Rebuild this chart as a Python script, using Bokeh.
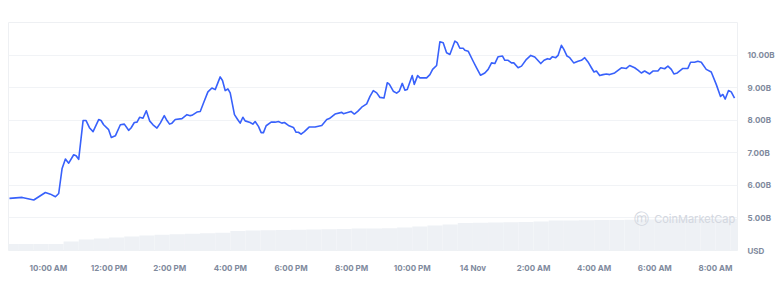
from bokeh.plotting import figure
from bokeh.models import Range1d, FixedTicker, Label
from bokeh.embed import file_html
from bokeh.resources import INLINE

# Time in hours since 00:00 on 13 Nov (24 = midnight, 14 Nov)
hours = [8.715, 9.134, 9.516, 9.90, 10.066, 10.231, 10.339, 10.451, 10.56, 10.669,
         10.833, 10.912, 10.998, 11.143, 11.242, 11.36, 11.472, 11.657, 11.736, 11.821,
         11.986, 12.075, 12.207, 12.372, 12.503, 12.645, 12.724, 12.833, 12.922, 13.007,
         13.119, 13.228, 13.337, 13.449, 13.58, 13.689, 13.821, 13.91, 13.995, 14.074,
         14.183, 14.404, 14.569, 14.677, 14.733, 14.898, 15.007, 15.115, 15.26, 15.392,
         15.501, 15.665, 15.741, 15.83, 15.919, 15.995, 16.136, 16.235, 16.324, 16.413,
         16.489, 16.653, 16.742, 16.818, 16.927, 17.016, 17.092, 17.181, 17.345, 17.477,
         17.586, 17.698, 17.783, 17.915, 18.08, 18.169, 18.245, 18.333, 18.442, 18.597,
         18.794, 19.015, 19.18, 19.266, 19.453, 19.674, 19.727, 19.98, 20.089, 20.201,
         20.333, 20.497, 20.606, 20.715, 20.827, 20.935, 21.067, 21.176, 21.242, 21.374,
         21.485, 21.571, 21.67, 21.759, 21.835, 21.999, 22.065, 22.177, 22.253, 22.474,
         22.582, 22.671, 22.803, 22.912, 23.02, 23.132, 23.241, 23.406, 23.482, 23.57,
         23.679, 23.735, 23.844, 24.009, 24.121, 24.253, 24.394, 24.503, 24.615, 24.723,
         24.832, 24.977, 25.053, 25.161, 25.273, 25.349, 25.491, 25.603, 25.767, 25.909,
         26.041, 26.238, 26.347, 26.459, 26.535, 26.624, 26.733, 26.808, 26.92, 26.996,
         27.105, 27.194, 27.325, 27.467, 27.579, 27.688, 27.797, 27.909, 27.994, 28.073,
         28.182, 28.291, 28.403, 28.511, 28.676, 28.897, 29.061, 29.17, 29.335, 29.443,
         29.555, 29.664, 29.829, 29.937, 30.102, 30.191, 30.323, 30.432, 30.544, 30.629,
         30.741, 30.926, 31.09, 31.179, 31.311, 31.42, 31.532, 31.696, 31.861, 32.026,
         32.167, 32.243, 32.322, 32.431, 32.52, 32.629]

# 24h trading volume, billions USD
volume_b = [5.60, 5.63, 5.55, 5.78, 5.73, 5.65, 5.75, 6.52, 6.81, 6.68,
            6.94, 6.91, 6.80, 7.99, 7.99, 7.76, 7.65, 8.02, 7.99, 7.86,
            7.71, 7.47, 7.52, 7.86, 7.88, 7.69, 7.76, 7.93, 7.94, 8.09,
            8.06, 8.29, 7.98, 7.86, 7.76, 7.91, 8.14, 7.99, 7.88, 7.91,
            8.02, 8.05, 8.17, 8.14, 8.15, 8.25, 8.27, 8.53, 8.87, 8.99,
            8.94, 9.33, 9.22, 8.91, 8.96, 8.84, 8.17, 8.03, 7.91, 8.09,
            7.98, 7.93, 7.88, 7.96, 7.81, 7.62, 7.62, 7.83, 7.94, 7.94,
            7.96, 7.91, 7.93, 7.84, 7.78, 7.63, 7.63, 7.57, 7.65, 7.79,
            7.79, 7.84, 8.02, 8.05, 8.19, 8.24, 8.20, 8.27, 8.19, 8.27,
            8.40, 8.50, 8.73, 8.91, 8.84, 8.70, 8.68, 9.15, 9.11, 8.89,
            8.83, 8.89, 9.13, 8.92, 8.94, 9.37, 9.10, 9.37, 9.30, 9.30,
            9.40, 9.56, 9.68, 10.41, 10.38, 10.07, 10.02, 10.43, 10.38, 10.21,
            10.21, 10.15, 10.12, 9.81, 9.61, 9.38, 9.45, 9.56, 9.76, 9.74,
            9.95, 9.97, 9.84, 9.84, 9.76, 9.76, 9.61, 9.66, 9.87, 9.99,
            9.94, 9.74, 9.84, 9.89, 9.87, 9.95, 9.92, 9.99, 10.30, 10.18,
            9.97, 9.92, 9.76, 9.81, 9.84, 9.92, 9.79, 9.61, 9.48, 9.51,
            9.37, 9.40, 9.42, 9.40, 9.45, 9.61, 9.59, 9.68, 9.61, 9.54,
            9.45, 9.51, 9.42, 9.51, 9.51, 9.61, 9.58, 9.66, 9.56, 9.42,
            9.45, 9.59, 9.59, 9.78, 9.78, 9.81, 9.78, 9.56, 9.48, 9.10,
            8.73, 8.79, 8.65, 8.91, 8.87, 8.68]

# Background grey bars (relative scale, 0-100)
bar_hours = [8.75 + 0.5 * i for i in range(49)]
bar_values = [2.9, 2.9, 2.9, 2.9, 3.9, 4.8, 5.3, 5.7, 6.1, 6.6,
              6.9, 7.1, 7.3, 7.6, 7.8, 8.6, 8.8, 8.9, 9.0, 9.1,
              9.2, 9.3, 9.4, 9.6, 9.6, 9.8, 10.1, 10.5, 11.0, 11.4,
              12.1, 12.2, 12.3, 12.4, 12.5, 12.7, 13.2, 13.2, 13.3, 13.4,
              13.4, 13.5, 13.6, 13.6, 13.7, 13.8, 13.8, 13.9, 13.9]

x_ticks = [10, 12, 14, 16, 18, 20, 22, 24, 26, 28, 30, 32]
x_tick_labels = ["10:00 AM", "12:00 PM", "2:00 PM", "4:00 PM", "6:00 PM", "8:00 PM",
                 "10:00 PM", "14 Nov", "2:00 AM", "4:00 AM", "6:00 AM", "8:00 AM"]
y_ticks = [4, 5, 6, 7, 8, 9, 10]
y_tick_labels = ["USD", "5.00B", "6.00B", "7.00B", "8.00B", "9.00B", "10.00B"]
grid_ticks = [5, 6, 7, 8, 9, 10]

FONT = "Inter"
LABEL_COLOR = "#808a9d"

p = figure(width=777, height=284, output_backend="svg", toolbar_location=None,
           x_range=Range1d(8.683, 32.727), y_range=Range1d(4.0, 11.0),
           y_axis_location="right",
           min_border_left=8, min_border_right=39, min_border_top=22, min_border_bottom=34)
p.extra_y_ranges = {"bars": Range1d(0, 100)}

p.vbar(x=bar_hours, top=bar_values, width=0.5, y_range_name="bars",
       fill_color="#eef1f5", line_color=None)
p.line(hours, volume_b, line_color="#3861fb", line_width=1.6, line_join="round")

p.outline_line_color = "#eef0f3"
p.background_fill_color = "white"
p.border_fill_color = "white"

p.xgrid.grid_line_color = None
p.ygrid.grid_line_color = "#f1f3f6"
p.ygrid.ticker = FixedTicker(ticks=grid_ticks)

xa = p.xaxis[0]
xa.ticker = FixedTicker(ticks=x_ticks)
xa.major_label_overrides = dict(zip(x_ticks, x_tick_labels))
xa.axis_line_color = None
xa.major_tick_line_color = None
xa.minor_tick_line_color = None
xa.major_label_standoff = 6
xa.major_label_text_font = FONT
xa.major_label_text_font_size = "8px"
xa.major_label_text_font_style = "bold"
xa.major_label_text_color = LABEL_COLOR

ya = p.yaxis[0]
ya.ticker = FixedTicker(ticks=y_ticks)
ya.major_label_overrides = dict(zip(y_ticks, y_tick_labels))
ya.axis_line_color = None
ya.major_tick_line_color = None
ya.minor_tick_line_color = None
ya.major_label_standoff = 4
ya.major_label_text_font = FONT
ya.major_label_text_font_size = "8px"
ya.major_label_text_font_style = "bold"
ya.major_label_text_color = LABEL_COLOR

p.add_layout(Label(x=29.55, y=4.98, text="ⓜ", text_baseline="middle", text_align="center",
                   text_font="DejaVu Sans", text_font_size="15px", text_color="#d3d7df"))
p.add_layout(Label(x=29.98, y=4.98, text="CoinMarketCap", text_baseline="middle",
                   text_font=FONT, text_font_size="11px", text_color="#d3d7df"))

open("out.html", "w").write(file_html(p, INLINE))
